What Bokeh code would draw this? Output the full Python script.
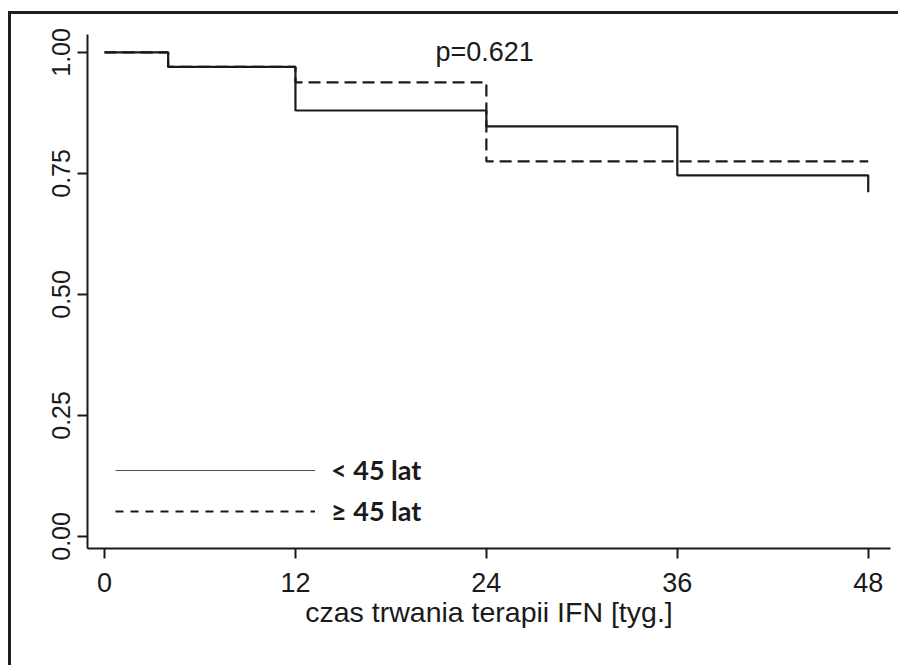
import math
from bokeh.plotting import figure
from bokeh.models import Range1d, FixedTicker, PrintfTickFormatter, Label, Legend, LegendItem
from bokeh.embed import file_html
from bokeh.resources import INLINE

# Kaplan-Meier data
young_t = [0, 4, 12, 24, 36, 48, 48]
young_s = [1.0, 0.97, 0.88, 0.847, 0.746, 0.746, 0.711]
old_t = [0, 4, 12, 24, 48]
old_s = [1.0, 0.97, 0.938, 0.775, 0.775]
x_ticks = [0, 12, 24, 36, 48]
y_ticks = [0.0, 0.25, 0.5, 0.75, 1.0]
labels = ["< 45 lat", "\u2265 45 lat"]
p_text = "p=0.621"
p_pos = (20.8, 1.0)

FONT = "Liberation Sans"
INK = "#1a1a1a"
NAN = float("nan")

p = figure(width=890, height=654, output_backend="svg", toolbar_location=None,
           x_range=Range1d(-1.07, 49.4), y_range=Range1d(-0.025, 1.037),
           min_border_left=76, min_border_right=11, min_border_top=20, min_border_bottom=120)
p.title.visible = False
p.styles = {"box-shadow": "-3px -3px 0 0 #1e1e1e",
            "margin-left": "11px", "margin-top": "14px"}
p.outline_line_color = None
p.grid.visible = False
p.background_fill_color = "white"
p.border_fill_color = "white"

for ax in (p.xaxis[0], p.yaxis[0]):
    ax.axis_line_color = INK
    ax.axis_line_width = 2
    ax.major_tick_line_color = INK
    ax.major_tick_line_width = 2
    ax.major_tick_out = 10
    ax.major_tick_in = 0
    ax.minor_tick_line_color = None
    ax.major_label_text_font = FONT
    ax.major_label_text_color = INK
    ax.axis_label_text_font = FONT
    ax.axis_label_text_font_size = "28.5px"
    ax.axis_label_text_font_style = "normal"
    ax.axis_label_text_color = INK

p.xaxis.major_label_text_font_size = "27px"
p.yaxis.major_label_text_font_size = "25px"
p.xaxis.ticker = FixedTicker(ticks=x_ticks)
p.yaxis.ticker = FixedTicker(ticks=y_ticks)
p.yaxis.formatter = PrintfTickFormatter(format="%.2f")
p.yaxis.major_label_orientation = "vertical"
p.yaxis.major_label_standoff = 7
p.xaxis.axis_label = "czas trwania terapii IFN [tyg.]"
p.xaxis.major_label_standoff = 14
p.xaxis.axis_label_standoff = 1

p.step(young_t, young_s, mode="after", line_color=INK, line_width=2.2)
p.step(old_t, old_s, mode="after", line_color=INK, line_width=2.2, line_dash="12 6")

r1 = p.line([NAN, NAN], [NAN, NAN], line_color="#3d5656", line_width=1.2)
r2 = p.line([NAN, NAN], [NAN, NAN], line_color=INK, line_width=2.2, line_dash="8 7")
legend = Legend(items=[LegendItem(label=labels[0], renderers=[r1]),
                       LegendItem(label=labels[1], renderers=[r2])],
                location=(28, 21), padding=0, margin=0, spacing=8,
                glyph_width=200, glyph_height=30, label_height=30, label_standoff=16,
                border_line_color=None, background_fill_alpha=0,
                label_text_font="Lato", label_text_font_size="27px",
                label_text_font_style="bold", label_text_color=INK)
p.add_layout(legend)

p.add_layout(Label(x=p_pos[0], y=p_pos[1], text=p_text, text_baseline="middle",
                   text_font=FONT, text_font_size="27px", text_color=INK))

open("out.html", "w").write(file_html(p, INLINE))
